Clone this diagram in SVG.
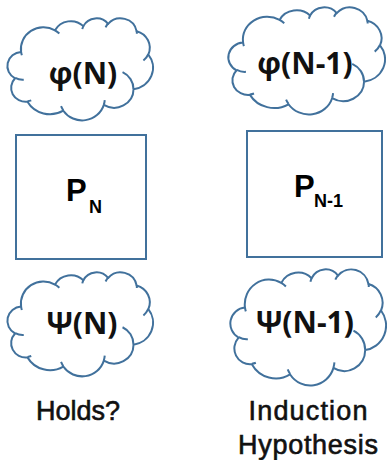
<svg xmlns="http://www.w3.org/2000/svg" xmlns:xlink="http://www.w3.org/1999/xlink" width="387" height="460" viewBox="0 0 387 460">
<style>
.cl{fill:#fff;stroke:#41719c;stroke-width:2;vector-effect:non-scaling-stroke;stroke-linejoin:round}
.ci{fill:none;stroke:#41719c;stroke-width:2;vector-effect:non-scaling-stroke}
.box{fill:#fff;stroke:#41719c;stroke-width:2}
.ct{font-family:"Open Sans","Liberation Sans",sans-serif;font-weight:bold;font-size:30px;fill:#111;text-anchor:middle}
.p{font-family:"Liberation Sans",Arial,sans-serif;font-weight:bold;fill:#000}
.lb{font-family:"Liberation Sans",Arial,sans-serif;font-size:27px;fill:#111;stroke:#111;stroke-width:0.6;text-anchor:middle}
</style>
<defs>
<path id="cloudOuter" class="cl" d="M39.00,143.70 A67.53,91.90 0 0 1 140.04,52.01 A53.33,72.67 0 0 1 224.56,34.33 A43.65,59.45 0 0 1 298.32,24.81 A48.57,65.95 0 0 1 383.17,55.75 A53.33,72.73 0 0 1 418.18,154.60 A67.75,92.20 0 0 1 374.04,302.04 A57.85,78.67 0 0 1 285.55,368.14 A67.52,92.15 0 0 1 164.80,392.66 A77.20,105.43 0 0 1 58.04,354.71 A43.60,59.18 0 0 1 21.13,255.48 A43.45,59.45 0 0 1 39.00,143.70 Z"/>
<path id="cloudInner" class="ci" d="M46.93,261.77 A43.45,59.45 0 0 1 21.59,253.80 M69.28,348.99 A43.60,59.18 0 0 1 58.20,352.81 M164.78,390.90 A67.52,92.15 0 0 1 158.10,373.49 M288.27,347.51 A67.52,92.15 0 0 1 285.60,366.61 M341.29,229.54 A57.85,78.67 0 0 1 373.81,300.90 M417.98,153.54 A53.33,72.73 0 0 1 403.50,180.29 M383.24,54.26 A48.57,65.95 0 0 1 384.01,66.90 M290.78,39.52 A48.57,65.95 0 0 1 298.20,23.40 M221.41,47.20 A43.65,59.45 0 0 1 225.00,33.30 M140.00,51.92 A67.53,91.90 0 0 1 153.01,65.42 M41.27,157.89 A67.53,91.90 0 0 1 39.01,143.71"/>
</defs>
<g id="connectors"></g>
<g id="phiN">
<g transform="translate(8,18) scale(0.3356,0.2361)"><use href="#cloudOuter"/><use href="#cloudInner"/></g>
<text class="ct" x="83" y="84">φ(N)</text>
</g>
<g id="phiN1">
<g transform="translate(229,7) scale(0.3611,0.2477)"><use href="#cloudOuter"/><use href="#cloudInner"/></g>
<text class="ct" x="305" y="74">φ(N-1)</text>
</g>
<g id="PN">
<rect class="box" x="16" y="135" width="130" height="124"/>
<text class="p" x="66" y="201" font-size="31">P</text>
<text class="p" x="89" y="213" font-size="18">N</text>
</g>
<g id="PN1">
<rect class="box" x="247" y="131" width="135" height="126"/>
<text class="p" x="294" y="197" font-size="31">P</text>
<text class="p" x="314" y="207" font-size="18">N-1</text>
</g>
<g id="psiN">
<g transform="translate(8,272) scale(0.3356,0.2407)"><use href="#cloudOuter"/><use href="#cloudInner"/></g>
<text class="ct" x="82" y="334">Ψ(N)</text>
</g>
<g id="psiN1">
<g transform="translate(231,269) scale(0.3588,0.2685)"><use href="#cloudOuter"/><use href="#cloudInner"/></g>
<text class="ct" x="305" y="333">Ψ(N-1)</text>
</g>
<g id="holds">
<text class="lb" x="78" y="420" textLength="84" lengthAdjust="spacing">Holds?</text>
</g>
<g id="induction">
<text class="lb" x="308" y="420" textLength="119" lengthAdjust="spacing">Induction</text>
<text class="lb" x="308" y="454" textLength="140" lengthAdjust="spacing">Hypothesis</text>
</g>
</svg>
